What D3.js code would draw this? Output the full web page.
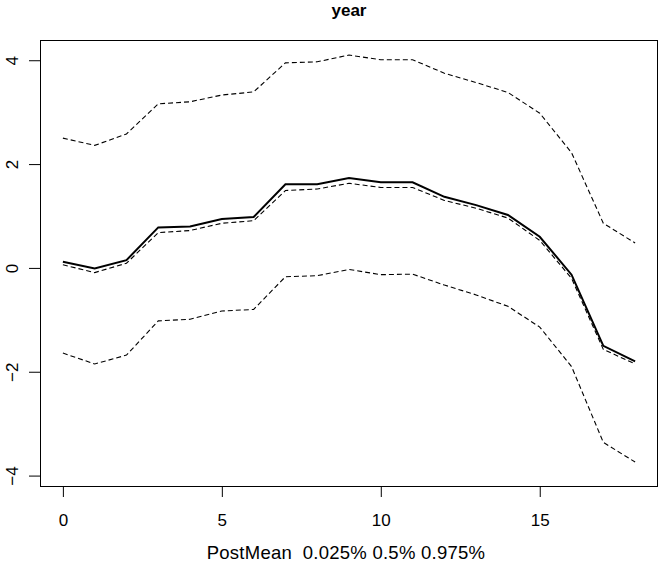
<!DOCTYPE html>
<html>
<head>
<meta charset="utf-8">
<script src="https://cdn.jsdelivr.net/npm/d3@7"></script>
<style>
  html, body { margin: 0; padding: 0; background: #fff; }
  svg { display: block; font-family: "Liberation Sans", Arial, Helvetica, sans-serif; }
</style>
</head>
<body>
<script>
// ---- data ----
const years = [0,1,2,3,4,5,6,7,8,9,10,11,12,13,14,15,16,17,18];
const postMean = [0.12,-0.01,0.15,0.78,0.80,0.94,0.98,1.61,1.61,1.73,1.65,1.65,1.37,1.21,1.02,0.60,-0.13,-1.50,-1.80];
const q025 = [-1.64,-1.85,-1.68,-1.02,-0.99,-0.83,-0.80,-0.17,-0.15,-0.03,-0.13,-0.12,-0.33,-0.52,-0.74,-1.14,-1.90,-3.36,-3.74];
const q500 = [0.06,-0.09,0.09,0.68,0.72,0.86,0.91,1.49,1.52,1.63,1.55,1.55,1.30,1.15,0.96,0.53,-0.20,-1.57,-1.85];
const q975 = [2.50,2.36,2.58,3.16,3.20,3.33,3.39,3.95,3.97,4.10,4.01,4.01,3.75,3.57,3.38,2.98,2.22,0.86,0.48];
const xTicks = [0,5,10,15];
const yTicks = [-4,-2,0,2,4];
const title = "year";
const xLabel = "PostMean  0.025% 0.5% 0.975%";

// ---- layout ----
const W = 660, H = 568;
const plot = {left: 40, right: 658, top: 40, bottom: 487};

const svg = d3.select("body").append("svg").attr("width", W).attr("height", H);

const x = d3.scaleLinear().domain([-0.72, 18.72]).range([plot.left, plot.right]);
const y = d3.scaleLinear().domain([-4.22, 4.39]).range([plot.bottom, plot.top]);

// title
svg.append("text").attr("x", (plot.left + plot.right) / 2).attr("y", 16)
  .attr("text-anchor", "middle").attr("font-weight", "bold").attr("font-size", 17)
  .text(title);

// box
svg.append("rect").attr("x", plot.left + 0.5).attr("y", plot.top + 0.5)
  .attr("width", plot.right - plot.left - 1).attr("height", plot.bottom - plot.top - 1)
  .attr("fill", "none").attr("stroke", "#000").attr("stroke-width", 1);

// x axis
const xAxis = svg.append("g").attr("transform", `translate(0,${plot.bottom})`)
  .call(d3.axisBottom(x).tickValues(xTicks).tickSize(10).tickPadding(17).tickFormat(d3.format("d")));
xAxis.select(".domain").attr("stroke", "none");
xAxis.selectAll(".tick line").attr("stroke", "#000");
xAxis.selectAll(".tick text").attr("font-size", 17).attr("fill", "#000").attr("font-family", "Liberation Sans, Arial, sans-serif");

// y axis
const yAxis = svg.append("g").attr("transform", `translate(${plot.left},0)`)
  .call(d3.axisLeft(y).tickValues(yTicks).tickSize(11).tickFormat(d3.format("d")));
yAxis.select(".domain").attr("stroke", "none");
yAxis.selectAll(".tick line").attr("stroke", "#000");
yAxis.selectAll(".tick text")
  .attr("font-size", 17).attr("fill", "#000").attr("font-family", "Liberation Sans, Arial, sans-serif")
  .attr("x", null).attr("dy", null)
  .attr("text-anchor", "middle")
  .attr("transform", "translate(-22,0) rotate(-90)");

// x label
svg.append("text").attr("x", 346).attr("y", 559)
  .attr("text-anchor", "middle").attr("font-size", 18.5)
  .attr("letter-spacing", 0.25)
  .style("white-space", "pre").attr("xml:space", "preserve")
  .text(xLabel);

// lines
const line = d3.line().x((d, i) => x(years[i])).y(d => y(d));
const g = svg.append("g");
[q025, q500, q975].forEach(s => {
  g.append("path").attr("d", line(s)).attr("fill", "none")
    .attr("stroke", "#000").attr("stroke-width", 1.1).attr("stroke-dasharray", "5,3");
});
g.append("path").attr("d", line(postMean)).attr("fill", "none")
  .attr("stroke", "#000").attr("stroke-width", 2);
</script>
</body>
</html>
